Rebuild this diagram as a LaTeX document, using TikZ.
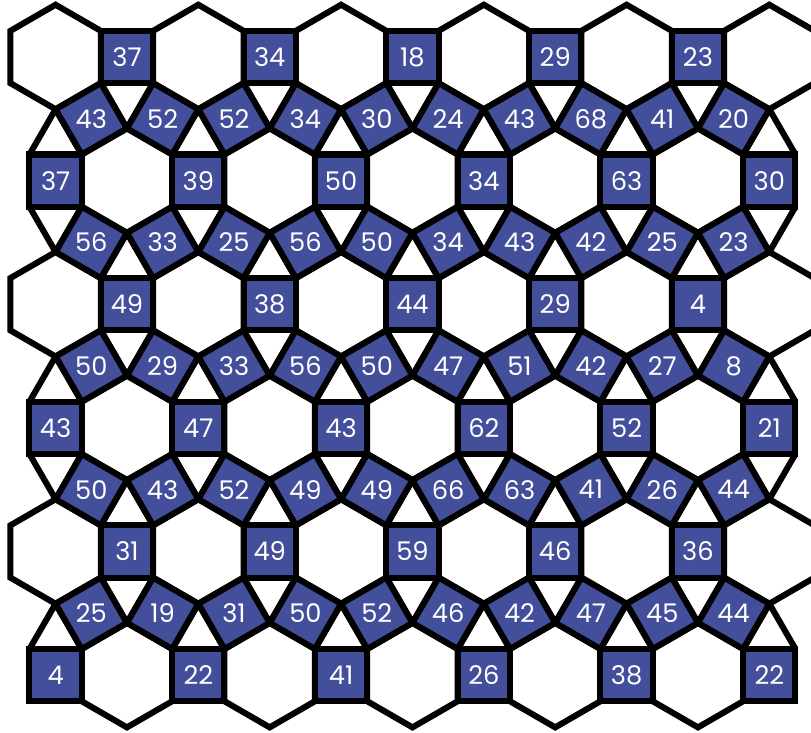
\documentclass[tikz,border=0pt]{standalone}
\usepackage{fontspec}
\setsansfont{Poppins}
\definecolor{tileblue}{HTML}{434F9B}

% grid of the tiling (side of every polygon = 1)
\def\hs{1.36603}  % half distance between hexagon centres
\def\rh{2.36603}  % distance between hexagon rows
\def\xo{1.064}
\def\yo{-1.0909}

\tikzset{
  edge/.style={line width=3.3pt,line join=miter},
  sqtile/.style={edge,fill=tileblue},
  num/.style={text=white,inner sep=0pt,
    font=\sffamily\fontsize{14}{14}\selectfont},
}

\begin{document}
\begin{tikzpicture}
  \useasboundingbox (0,0) rectangle (15.522,-14.029);
  \fill[white] (0,0) rectangle (15.522,-14.029);
  \clip (0,0) rectangle (15.522,-14.029);

  % triangles above and below the upright squares
  \foreach \j/\first/\vals in {0/1/{37,34,18,29,23},
      1/0/{37,39,50,34,63,30}, 2/1/{49,38,44,29,4},
      3/0/{43,47,43,62,52,21}, 4/1/{31,49,59,46,36},
      5/0/{4,22,41,26,38,22}}{
    \foreach \v [count=\k from 0] in \vals {
      \pgfmathsetmacro\x{\xo+\hs*(\first+2*\k)}
      \pgfmathsetmacro\y{\yo-\rh*\j}
      \ifnum\j<5
        \draw[edge] (\x-.5,\y-.5) -- (\x,\y-1.366) -- (\x+.5,\y-.5);
      \fi
      \ifnum\j>0
        \draw[edge] (\x-.5,\y+.5) -- (\x,\y+1.366) -- (\x+.5,\y+.5);
      \fi
    }
  }

  % hexagons
  \foreach \j/\ms in {0/{0,2,...,10},1/{1,3,...,9},2/{0,2,...,10},
      3/{1,3,...,9},4/{0,2,...,10},5/{1,3,...,9}}{
    \foreach \m in \ms {
      \pgfmathsetmacro\x{\xo+\hs*\m}
      \pgfmathsetmacro\y{\yo-\rh*\j}
      \draw[edge,fill=white] (\x,\y) +(90:1) -- +(30:1) -- +(-30:1)
        -- +(-90:1) -- +(-150:1) -- +(150:1) -- cycle;
    }
  }

  % upright squares
  \foreach \j/\first/\vals in {0/1/{37,34,18,29,23},
      1/0/{37,39,50,34,63,30}, 2/1/{49,38,44,29,4},
      3/0/{43,47,43,62,52,21}, 4/1/{31,49,59,46,36},
      5/0/{4,22,41,26,38,22}}{
    \foreach \v [count=\k from 0] in \vals {
      \pgfmathsetmacro\x{\xo+\hs*(\first+2*\k)}
      \pgfmathsetmacro\y{\yo-\rh*\j}
      \filldraw[sqtile] (\x-.5,\y-.5) rectangle (\x+.5,\y+.5);
      \node[num] (h\j-\k) at (\x,\y) {\v};
    }
  }

  % tilted squares between the rows
  \foreach \j/\vals in {0/{43,52,52,34,30,24,43,68,41,20},
      1/{56,33,25,56,50,34,43,42,25,23},
      2/{50,29,33,56,50,47,51,42,27,8},
      3/{50,43,52,49,49,66,63,41,26,44},
      4/{25,19,31,50,52,46,42,47,45,44}}{
    \foreach \v [count=\n from 0] in \vals {
      \pgfmathsetmacro\x{\xo+\hs*(\n+.5)}
      \pgfmathsetmacro\y{\yo-\rh*\j-1.18301}
      \pgfmathsetmacro\ang{120*mod(\n+\j,2)-60}
      \begin{scope}[shift={(\x,\y)},rotate=\ang]
        \filldraw[sqtile] (-.5,-.5) rectangle (.5,.5);
      \end{scope}
      \node[num] (t\j-\n) at (\x,\y) {\v};
    }
  }
\end{tikzpicture}
\end{document}
